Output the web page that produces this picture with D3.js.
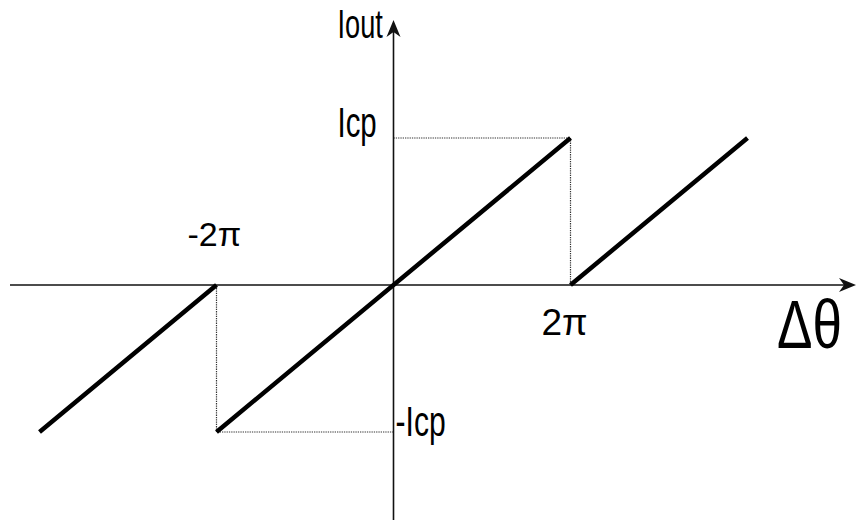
<!DOCTYPE html>
<html>
<head>
<meta charset="utf-8">
<script src="https://cdn.jsdelivr.net/npm/d3@7"></script>
<style>
  html, body { margin: 0; padding: 0; background: #fff; }
  svg { display: block; }
  text { font-family: "Liberation Sans", Arial, sans-serif; fill: #000; }
</style>
</head>
<body>
<svg id="chart" width="856" height="523"></svg>
<script>
// Phase-detector transfer curve: charge-pump output current vs. phase error.
// Phase values are in units of π, current in units of Icp.
const phase   = [-4, -2, null, -2, 2, null, 2, 4];
const current = [-1,  0, null, -1, 1, null, 0, 1];

const xTickValues = [-2, 2];
const xTickLabels = ["-2π", "2π"];
const yTickValues = [1, -1];
const yTickLabels = ["Icp", "-Icp"];

const xAxisTitle = "Δθ";
const yAxisTitle = "Iout";

const svg = d3.select("#chart");

const x = d3.scaleLinear().domain([-4, 4]).range([39.5, 747.5]);
const y = d3.scaleLinear().domain([-1, 1]).range([432, 138]);

const x0 = x(0), y0 = y(0);

// dotted guides from the curve's jump points back to the axes
const guides = [];
xTickValues.forEach(t => {
  const v = t > 0 ? yTickValues[0] : yTickValues[1];
  guides.push([[0, v], [t, v]]);
  guides.push([[t, v], [t, 0]]);
});
svg.append("g")
  .selectAll("line")
  .data(guides)
  .join("line")
  .attr("x1", d => x(d[0][0])).attr("y1", d => y(d[0][1]))
  .attr("x2", d => x(d[1][0])).attr("y2", d => y(d[1][1]))
  .attr("stroke", "#333")
  .attr("stroke-width", 1.2)
  .attr("stroke-dasharray", "1.3,1");

// axes with arrowheads
const axisColor = "#111";
svg.append("line")
  .attr("x1", 10).attr("y1", y0).attr("x2", 846).attr("y2", y0)
  .attr("stroke", axisColor).attr("stroke-width", 1.7);
svg.append("line")
  .attr("x1", x0).attr("y1", 520).attr("x2", x0).attr("y2", 30)
  .attr("stroke", axisColor).attr("stroke-width", 1.6);

function arrow(tipX, tipY, dir) {
  // dir: "right" or "up"
  const L = 17, W = 7, N = 12;
  let pts;
  if (dir === "right") {
    pts = [[tipX, tipY], [tipX - L, tipY - W], [tipX - N, tipY], [tipX - L, tipY + W]];
  } else {
    pts = [[tipX, tipY], [tipX - W, tipY + L], [tipX, tipY + N], [tipX + W, tipY + L]];
  }
  svg.append("path")
    .attr("d", "M" + pts.map(p => p.join(",")).join("L") + "Z")
    .attr("fill", axisColor);
}
arrow(856, y0, "right");
arrow(x0, 20, "up");

// transfer curve
const line = d3.line()
  .defined((d, i) => phase[i] !== null)
  .x((d, i) => x(phase[i]))
  .y((d, i) => y(current[i]));
svg.append("path")
  .attr("d", line(phase))
  .attr("fill", "none")
  .attr("stroke", "#000")
  .attr("stroke-width", 4.5)
  .attr("stroke-linecap", "butt");

// labels (condensed face for the current labels)
function label(txt, left, baseline, size, sx) {
  svg.append("text")
    .attr("transform", `translate(${left},${baseline}) scale(${sx},1)`)
    .attr("font-size", size)
    .text(txt);
}

// phase tick labels
label(xTickLabels[0], x(xTickValues[0]) - 29, y0 - 39, 34, 1);
label(xTickLabels[1], x(xTickValues[1]) - 29, y0 + 50, 37, 1);

// current tick labels
label(yTickLabels[0], x0 - 56, y(yTickValues[0]) - 1, 42, 0.7);
label(yTickLabels[1], x0 + 2, y(yTickValues[1]) + 4, 43, 0.7);

// axis titles
label(yAxisTitle, x0 - 56, 38, 40, 0.68);
label(xAxisTitle, 777, y0 + 63, 68, 0.78);
</script>
</body>
</html>
